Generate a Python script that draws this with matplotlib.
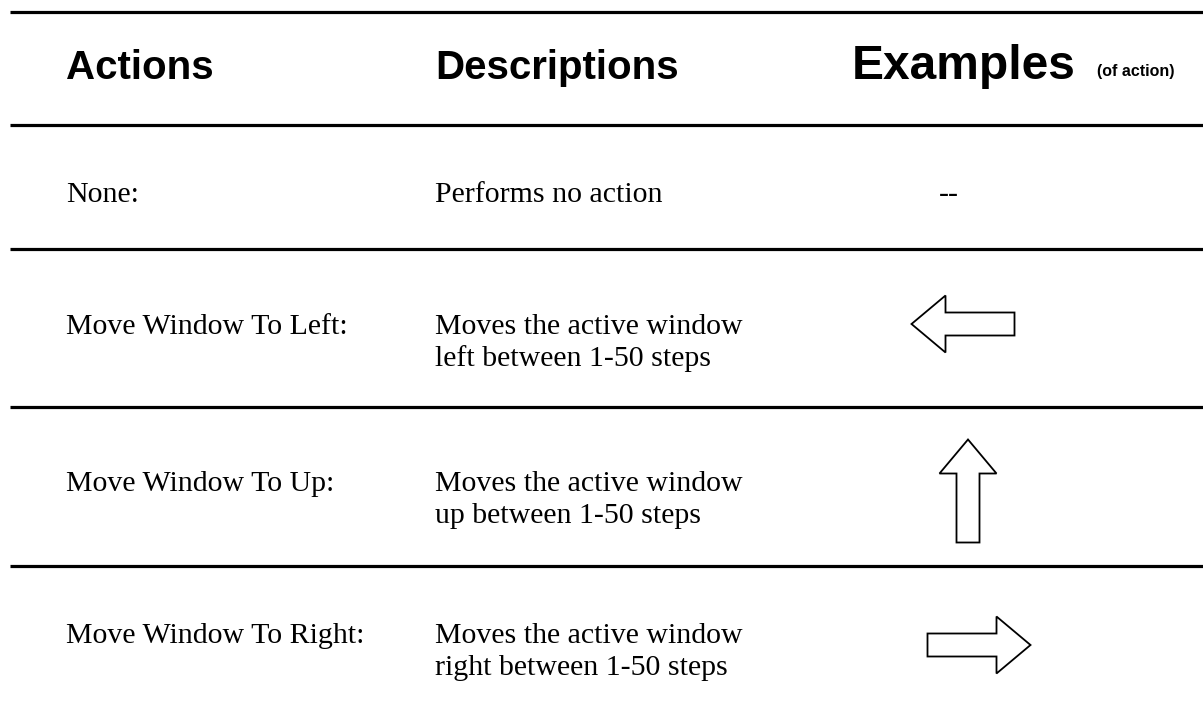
import matplotlib.pyplot as plt
from matplotlib.patches import Polygon
import numpy as np

# table content
headers = ['Actions', 'Descriptions', 'Examples']
header_note = '(of action)'
actions = ['None:', 'Move Window To Left:', 'Move Window To Up:', 'Move Window To Right:']
descriptions = ['Performs no action',
                'Moves the active window\nleft between 1-50 steps',
                'Moves the active window\nup between 1-50 steps',
                'Moves the active window\nright between 1-50 steps']
examples = ['--', 'left', 'up', 'right']

# layout (pixels)
W, H = 1203, 718
rule_y = [12, 125, 249, 407, 566]
row_base = [202, 334, 491, 643]     # baseline of first text line per row
arrow_cy = [193, 324, 491, 645]
col_x = [66, 435, 949]
arrow_cx = {'left': 963, 'up': 968, 'right': 979}
arrow_len, head_len, head_w, shaft_w = 103, 34, 57, 23
line_step = 32


def arrow_poly(cx, cy, d):
    L, hl, hw, sw = arrow_len / 2, head_len, head_w / 2, shaft_w / 2
    # pointing right, centred at origin
    pts = np.array([[-L, -sw], [L - hl, -sw], [L - hl, -hw], [L, 0],
                    [L - hl, hw], [L - hl, sw], [-L, sw]])
    if d == 'left':
        pts[:, 0] *= -1
    elif d == 'up':
        pts = np.column_stack([pts[:, 1], -pts[:, 0]])
    return pts + [cx, cy]


fig = plt.figure(figsize=(W / 100, H / 100), dpi=100)
ax = fig.add_axes([0, 0, 1, 1])
ax.set_xlim(0, W)
ax.set_ylim(H, 0)
ax.axis('off')

for y in rule_y:
    ax.plot([10, W], [y, y], color='black', lw=2.3, solid_capstyle='butt')

hy = 79
sans = 'Liberation Sans'
ax.text(col_x[0], hy, headers[0], fontsize=29, fontweight='bold', family=sans, va='baseline')
ax.text(col_x[1], hy, headers[1], fontsize=29, fontweight='bold', family=sans, va='baseline')
ax.text(852, hy, headers[2], fontsize=34.5, fontweight='bold', family=sans, va='baseline')
ax.text(1097, hy - 3, header_note, fontsize=11.5, fontweight='bold', family=sans, va='baseline')

serif = 'Liberation Serif'
fs = 21.5
for i in range(len(actions)):
    yb = row_base[i]
    ax.text(col_x[0], yb, actions[i], fontsize=fs, family=serif, va='baseline')
    for k, line in enumerate(descriptions[i].split('\n')):
        ax.text(col_x[1], yb + k * line_step, line, fontsize=fs, family=serif, va='baseline')
    ex = examples[i]
    if ex == '--':
        ax.text(col_x[2], yb, ex, fontsize=fs, family=serif, ha='center', va='baseline')
    else:
        ax.add_patch(Polygon(arrow_poly(arrow_cx[ex], arrow_cy[i], ex),
                             closed=True, facecolor='white', edgecolor='black', lw=1.3))

fig.savefig('out.png', dpi=100)
